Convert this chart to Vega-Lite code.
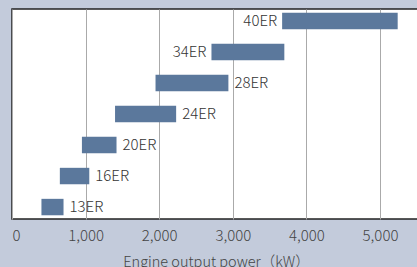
{
  "$schema": "https://vega.github.io/schema/vega-lite/v6.json",
  "autosize": "none",
  "padding": {"left": 12, "top": 9, "right": 0, "bottom": 48},
  "width": 406,
  "height": 210,
  "background": "#c3cbdb",
  "view": {"fill": "#ffffff", "stroke": "#222222", "strokeWidth": 1.5},
  "data": {
    "values": [
      {"model": "40ER", "start": 3670, "end": 5240},
      {"model": "34ER", "start": 2710, "end": 3700},
      {"model": "28ER", "start": 1950, "end": 2940},
      {"model": "24ER", "start": 1400, "end": 2230},
      {"model": "20ER", "start": 950, "end": 1420},
      {"model": "16ER", "start": 650, "end": 1050},
      {"model": "13ER", "start": 400, "end": 700}
    ]
  },
  "encoding": {
    "y": {
      "field": "model",
      "type": "nominal",
      "sort": null,
      "axis": null,
      "scale": {"paddingInner": 0.47, "paddingOuter": 0.12}
    }
  },
  "layer": [
    {
      "mark": {"type": "bar", "color": "#5b789c"},
      "encoding": {
        "x": {
          "field": "start",
          "type": "quantitative",
          "scale": {"domain": [0, 5516], "nice": false, "zero": false},
          "axis": {
            "values": [0, 1000, 2000, 3000, 4000, 5000],
            "format": ",d",
            "domain": false,
            "ticks": false,
            "grid": true,
            "gridColor": "#aaaaaa",
            "gridWidth": 1,
            "labelFont": "Noto Sans CJK JP",
            "labelFontWeight": 300,
            "labelFontSize": 15,
            "labelColor": "#444444",
            "labelPadding": 9,
            "title": "Engine output power（kW）",
            "titleFont": "Noto Sans CJK JP",
            "titleFontSize": 14.5,
            "titleFontWeight": 300,
            "titleColor": "#444444",
            "titlePadding": 12,
            "titleX": 204
          }
        },
        "x2": {"field": "end"}
      }
    },
    {
      "transform": [{"filter": {"field": "model", "oneOf": ["13ER", "16ER", "20ER", "24ER", "28ER"]}}],
      "mark": {"type": "text", "align": "left", "baseline": "middle", "dx": 6, "font": "Noto Sans CJK JP", "fontWeight": 300, "fontSize": 15, "color": "#333333"},
      "encoding": {
        "x": {"field": "end", "type": "quantitative"},
        "text": {"field": "model"}
      }
    },
    {
      "transform": [{"filter": {"field": "model", "oneOf": ["34ER", "40ER"]}}],
      "mark": {"type": "text", "align": "right", "baseline": "middle", "dx": -5, "font": "Noto Sans CJK JP", "fontWeight": 300, "fontSize": 15, "color": "#333333"},
      "encoding": {
        "x": {"field": "start", "type": "quantitative"},
        "text": {"field": "model"}
      }
    }
  ]
}
